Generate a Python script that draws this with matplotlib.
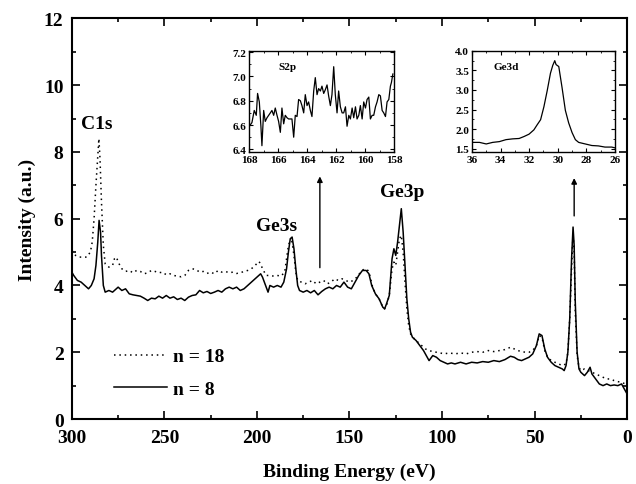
import numpy as np
import matplotlib.pyplot as plt
from matplotlib.ticker import MultipleLocator

plt.rcParams['font.family'] = ['Liberation Serif', 'DejaVu Serif']
plt.rcParams['font.weight'] = 'bold'

# survey spectrum, n = 8 (solid)
e8 = [300, 299, 297, 295, 293, 291, 289.5, 288, 287, 286, 285.3, 284.5, 284, 283, 282,
      280, 278, 276, 275, 273, 271, 269, 267, 265, 263, 261, 259, 257, 255, 253, 251,
      249, 247, 245, 243, 241, 239, 237, 235, 233, 231, 229, 227, 225, 223, 221, 219,
      217, 215, 213, 211, 209, 207, 205, 203, 201, 199, 198, 197, 196, 195, 194, 193,
      191, 189, 187, 185.5, 184, 183, 182, 181, 180, 179, 178, 177, 175, 173, 171, 169,
      167, 165, 163, 161, 159, 157, 155, 153, 151, 149, 147, 145, 143, 141, 139.5, 138,
      136, 134, 132, 131, 130, 128.5, 127, 126, 125, 124, 123, 122, 121, 120, 119, 118,
      117, 116, 114, 112, 110, 108, 107, 105, 103, 101, 99, 97, 95, 93, 90, 87, 84, 81,
      78, 75, 72, 69, 66, 63, 61, 59, 57, 55, 53, 51, 49, 47.5, 46, 44.5, 43, 41, 39,
      37, 35, 34, 33, 32, 31, 30, 29.2, 28.6, 28, 27, 26, 25, 23, 21.5, 20, 19, 17, 15,
      13, 11, 9, 7, 5, 3, 2, 0.5, 0]
i8 = [4.4, 4.3, 4.15, 4.1, 4.0, 3.9, 4.0, 4.2, 4.6, 5.3, 5.95, 5.6, 4.9, 4.0, 3.8,
      3.85, 3.8, 3.9, 3.95, 3.85, 3.9, 3.75, 3.72, 3.7, 3.68, 3.62, 3.55, 3.62, 3.6,
      3.68, 3.62, 3.7, 3.62, 3.66, 3.58, 3.62, 3.55, 3.65, 3.7, 3.72, 3.85, 3.78, 3.82,
      3.76, 3.8, 3.85, 3.8, 3.9, 3.95, 3.9, 3.95, 3.85, 3.9, 4.0, 4.1, 4.2, 4.3, 4.35,
      4.25, 4.1, 3.95, 3.8, 4.0, 3.95, 4.0, 3.95, 4.1, 4.5, 5.0, 5.4, 5.45, 5.1, 4.5,
      4.0, 3.85, 3.8, 3.85, 3.78, 3.85, 3.72, 3.82, 3.9, 3.95, 3.9, 4.0, 3.95, 4.1,
      3.95, 3.9, 4.1, 4.3, 4.45, 4.45, 4.35, 4.0, 3.75, 3.6, 3.35, 3.3, 3.45, 3.7,
      4.8, 5.1, 4.9, 5.3, 5.8, 6.3, 5.6, 4.6, 3.6, 3.0, 2.6, 2.45, 2.35, 2.2, 2.05,
      1.85, 1.75, 1.9, 1.85, 1.75, 1.7, 1.65, 1.68, 1.65, 1.7, 1.65, 1.7, 1.68, 1.72,
      1.7, 1.75, 1.72, 1.78, 1.88, 1.85, 1.78, 1.75, 1.8, 1.85, 1.95, 2.2, 2.55, 2.5,
      2.1, 1.85, 1.7, 1.6, 1.55, 1.5, 1.45, 1.6, 2.0, 3.0, 4.8, 5.75, 5.2, 3.5, 2.0,
      1.5, 1.4, 1.3, 1.4, 1.55, 1.35, 1.2, 1.05, 1.0, 1.05, 1.0, 1.02, 1.0, 1.05, 0.95,
      0.8, 0.75]

# survey spectrum, n = 18 (dotted)
e18 = [300, 298, 296, 294, 292, 290, 289, 288, 287, 286, 285.4, 284.8, 284, 283, 282,
       280, 278, 277, 276, 274.5, 273, 271, 269, 267, 265, 263, 261, 259, 257, 255, 253,
       251, 249, 247, 245, 243, 241, 239, 237, 235, 233, 231, 229, 227, 225, 223, 221,
       219, 217, 215, 213, 211, 209, 207, 205, 203, 201, 199, 198, 197, 195, 193, 191,
       189, 187, 185, 184, 183, 182, 181, 180, 179, 178, 176, 174, 172, 170, 168, 166,
       164, 162, 160, 158, 156, 154, 152, 150, 148, 146, 144, 142, 140, 139, 137.5, 136,
       134, 132, 131, 130, 128.5, 127, 126, 125, 124, 123, 122, 121, 120, 119, 118, 117,
       115, 113, 111, 109, 107, 105, 103, 101, 99, 96, 93, 90, 87, 84, 81, 78, 75, 72,
       69, 66, 63, 61, 59, 57, 55, 53, 51, 49, 47.5, 46, 44.5, 43, 41, 39, 37, 35, 33,
       32, 31, 30, 29.2, 28.6, 28, 27, 26, 25, 23, 21, 19, 17, 15, 13, 11, 9, 7, 5, 3,
       1, 0]
i18 = [5.05, 4.9, 4.85, 4.85, 4.85, 5.0, 5.3, 6.0, 7.0, 7.9, 8.4, 7.8, 6.5, 5.2, 4.65,
       4.55, 4.6, 4.8, 4.85, 4.65, 4.5, 4.42, 4.45, 4.38, 4.45, 4.42, 4.35, 4.38, 4.45,
       4.42, 4.38, 4.4, 4.32, 4.35, 4.3, 4.28, 4.26, 4.3, 4.45, 4.5, 4.48, 4.4, 4.42,
       4.36, 4.4, 4.35, 4.45, 4.4, 4.42, 4.38, 4.4, 4.36, 4.38, 4.42, 4.45, 4.5, 4.6,
       4.72, 4.65, 4.5, 4.3, 4.3, 4.28, 4.3, 4.28, 4.4, 4.8, 5.2, 5.35, 5.3, 4.9, 4.4,
       4.15, 4.1, 4.05, 4.1, 4.15, 4.05, 4.1, 4.15, 4.05, 4.1, 4.2, 4.15, 4.2, 4.15,
       4.1, 4.15, 4.25, 4.4, 4.5, 4.45, 4.3, 3.95, 3.75, 3.6, 3.35, 3.3, 3.4, 3.7, 4.5,
       4.7, 4.6, 5.0, 5.4, 5.5, 5.0, 4.1, 3.3, 2.8, 2.55, 2.4, 2.3, 2.2, 2.1, 2.05,
       2.02, 2.0, 1.98, 1.95, 1.98, 1.95, 1.98, 1.95, 2.0, 2.02, 2.0, 2.05, 2.02, 2.05,
       2.08, 2.15, 2.1, 2.05, 2.02, 2.0, 2.0, 2.05, 2.2, 2.5, 2.45, 2.05, 1.85, 1.75,
       1.7, 1.65, 1.6, 1.65, 2.0, 3.0, 4.5, 5.55, 5.0, 3.2, 1.9, 1.55, 1.45, 1.5, 1.45,
       1.4, 1.35, 1.3, 1.25, 1.2, 1.2, 1.15, 1.12, 1.1, 1.05, 1.0]

# S2p inset
e_s2p = [168.0, 167.82, 167.66, 167.52, 167.43, 167.31, 167.2, 167.13, 167.01, 166.9,
         166.78, 166.55, 166.44, 166.32, 166.21, 166.09, 165.98, 165.86, 165.75, 165.63,
         165.52, 165.4, 165.29, 165.06, 164.94, 164.83, 164.71, 164.6, 164.48, 164.37,
         164.25, 164.14, 164.02, 163.91, 163.79, 163.68, 163.56, 163.45, 163.33, 163.22,
         163.1, 162.99, 162.87, 162.76, 162.64, 162.53, 162.41, 162.3, 162.18, 162.07,
         161.95, 161.84, 161.72, 161.6, 161.49, 161.37, 161.26, 161.14, 161.03, 160.91,
         160.8, 160.68, 160.57, 160.45, 160.34, 160.22, 160.11, 159.99, 159.88, 159.76,
         159.65, 159.53, 159.42, 159.3, 159.19, 159.07, 158.96, 158.84, 158.73, 158.61,
         158.5, 158.38, 158.27, 158.2, 158.1]
i_s2p = [6.59, 6.62, 6.72, 6.68, 6.86, 6.79, 6.59, 6.43, 6.72, 6.63, 6.66, 6.7, 6.72,
         6.68, 6.74, 6.68, 6.63, 6.54, 6.74, 6.61, 6.68, 6.66, 6.65, 6.65, 6.5, 6.68,
         6.67, 6.81, 6.8, 6.76, 6.7, 6.85, 6.76, 6.79, 6.72, 6.67, 6.88, 6.99, 6.85,
         6.9, 6.88, 6.92, 6.86, 6.89, 6.93, 6.84, 6.76, 6.85, 7.08, 6.85, 6.7, 6.88,
         6.75, 6.7, 6.7, 6.75, 6.59, 6.68, 6.65, 6.74, 6.66, 6.75, 6.65, 6.68, 6.76,
         6.65, 6.79, 6.74, 6.81, 6.83, 6.65, 6.68, 6.68, 6.75, 6.79, 6.85, 6.84, 6.72,
         6.7, 6.67, 6.79, 6.81, 6.92, 6.95, 7.02]

# Ge3d inset
e_ge3d = [36.0, 35.47, 35.0, 34.55, 34.08, 33.62, 33.16, 32.7, 32.36, 32.01, 31.67,
          31.44, 31.2, 30.97, 30.74, 30.51, 30.35, 30.21, 30.12, 29.93, 29.7, 29.47,
          29.24, 29.0, 28.77, 28.54, 28.08, 27.62, 27.16, 26.7, 26.23, 26.0]
i_ge3d = [1.66, 1.66, 1.62, 1.66, 1.68, 1.73, 1.75, 1.76, 1.81, 1.87, 1.98, 2.11,
          2.24, 2.57, 2.98, 3.43, 3.63, 3.75, 3.65, 3.6, 3.06, 2.48, 2.16, 1.91, 1.73,
          1.66, 1.62, 1.58, 1.57, 1.54, 1.54, 1.52]

fig = plt.figure(figsize=(6.36, 4.85), dpi=100)
ax = fig.add_axes([0.113, 0.134, 0.873, 0.826])
ax.plot(e18, i18, color='black', linestyle=(0, (1, 2.5)), linewidth=1.1, label='n = 18')
ax.plot(e8, i8, color='black', linestyle='-', linewidth=1.1, label='n = 8')
ax.set_xlim(300, 0)
ax.set_ylim(0, 12)
ax.xaxis.set_major_locator(MultipleLocator(50))
ax.xaxis.set_minor_locator(MultipleLocator(25))
ax.yaxis.set_major_locator(MultipleLocator(2))
ax.yaxis.set_minor_locator(MultipleLocator(1))
ax.tick_params(which='both', direction='in', top=True, right=True, labelsize=14, width=1.2)
ax.tick_params(which='major', length=6)
ax.tick_params(which='minor', length=3)
ax.tick_params(axis='x', pad=7)
ax.tick_params(axis='y', pad=6)
for s in ax.spines.values():
    s.set_linewidth(1.5)
ax.set_xlabel('Binding Energy (eV)', fontsize=14, fontweight='bold', labelpad=12)
ax.set_ylabel('Intensity (a.u.)', fontsize=14, fontweight='bold', labelpad=6)

ax.text(286.5, 8.85, 'C1s', fontsize=14, fontweight='bold', ha='center', va='center')
ax.text(189.5, 5.8, 'Ge3s', fontsize=14, fontweight='bold', ha='center', va='center')
ax.text(121.5, 6.8, 'Ge3p', fontsize=14, fontweight='bold', ha='center', va='center')

ax.annotate('', xy=(166, 7.35), xytext=(166, 4.45),
            arrowprops=dict(arrowstyle='-|>', color='black', lw=1, mutation_scale=8))
ax.annotate('', xy=(28.6, 7.3), xytext=(28.6, 6.0),
            arrowprops=dict(arrowstyle='-|>', color='black', lw=1, mutation_scale=8))

ax.legend(loc='lower left', bbox_to_anchor=(0.045, 0.01), frameon=False, fontsize=14,
          handlelength=2.7, labelspacing=0.75, handletextpad=0.3)

# insets
in1 = fig.add_axes([0.392, 0.685, 0.228, 0.208])
in1.plot(e_s2p, i_s2p, color='black', linewidth=0.9)
in1.set_xlim(168, 158)
in1.set_ylim(6.38, 7.21)
in1.xaxis.set_major_locator(MultipleLocator(2))
in1.xaxis.set_minor_locator(MultipleLocator(1))
in1.yaxis.set_major_locator(MultipleLocator(0.2))
in1.yaxis.set_minor_locator(MultipleLocator(0.1))
in1.text(0.2, 0.82, 'S2p', transform=in1.transAxes, fontsize=8, fontweight='bold')

in2 = fig.add_axes([0.742, 0.685, 0.225, 0.208])
in2.plot(e_ge3d, i_ge3d, color='black', linewidth=0.9)
in2.set_xlim(36, 26)
in2.set_ylim(1.42, 4.0)
in2.xaxis.set_major_locator(MultipleLocator(2))
in2.xaxis.set_minor_locator(MultipleLocator(1))
in2.yaxis.set_major_locator(MultipleLocator(0.5))
in2.yaxis.set_minor_locator(MultipleLocator(0.25))
in2.text(0.15, 0.82, 'Ge3d', transform=in2.transAxes, fontsize=8, fontweight='bold')

for a in (in1, in2):
    a.tick_params(which='both', direction='in', top=True, right=True, labelsize=8, pad=2)
    a.tick_params(which='major', length=3)
    a.tick_params(which='minor', length=1.5)
    a.yaxis.set_major_formatter(plt.FormatStrFormatter('%.1f'))
    for s in a.spines.values():
        s.set_linewidth(1.0)

fig.savefig('out.png', dpi=100)
